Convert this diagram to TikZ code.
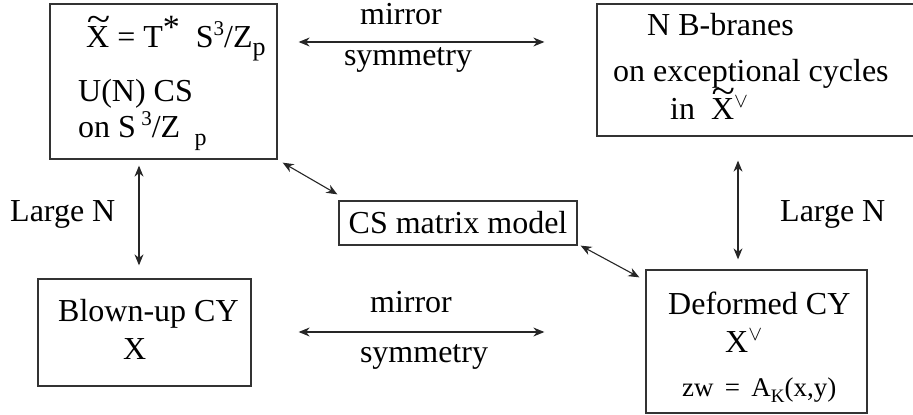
\documentclass[tikz,border=0pt]{standalone}
\usepackage{fontspec}
\setmainfont{Liberation Serif}
\usetikzlibrary{arrows.meta}
\newcommand{\sz}{\fontsize{32}{36}\selectfont}
\newcommand{\smz}{\fontsize{27}{30}\selectfont}
\newcommand{\myup}[1]{\raisebox{0.40em}{\fontsize{21}{21}\selectfont #1}}
\newcommand{\mydn}[1]{\raisebox{-0.22em}{\fontsize{24}{24}\selectfont #1}}
\newcommand{\tX}{\makebox[0pt][l]{\hspace{0.02em}\raisebox{0.50em}{\scalebox{1.35}[1.15]{\symbol{126}}}}X}
\begin{document}
\begin{tikzpicture}[x=1pt,y=1pt,
  box/.style={draw=black!80, line width=1.3pt, inner sep=0pt},
  txt/.style={anchor=base west, inner sep=0pt, font=\sz},
  lbl/.style={anchor=base, inner sep=0pt, font=\sz},
  arr/.style={draw=black!85, line width=1.1pt, {Stealth[length=11pt,width=9pt]}-{Stealth[length=11pt,width=9pt]}}]
\useasboundingbox (0,0) rectangle (913,415);
% boxes
\node[box, minimum width=227pt, minimum height=155pt] (tl) at (163.5,333.5) {};
\node[box, minimum width=317pt, minimum height=132pt] (tr) at (755.5,345) {};
\node[box, minimum width=213pt, minimum height=107pt] (bl) at (144.5,82.5) {};
\node[box, minimum width=221pt, minimum height=143pt] (br) at (756.5,73.5) {};
\node[box, minimum width=238pt, minimum height=44pt, font=\sz] (cs) at (458,192) {CS matrix model};
% texts in TL
\node[txt] (tl1) at (86,367) {\tX\ = T\raisebox{0.30em}{\fontsize{34}{34}\selectfont *}\ \ S\myup{3}/Z\mydn{\fontsize{26}{26}\selectfont p}};
\node[txt] (tl2) at (78,313) {U(N) CS};
\node[txt] (tl3) at (78,277) {on S\,\myup{3}/Z\hspace{0.45em}\mydn{p}};
% texts in TR
\node[txt] (tr1) at (647,379) {N B-branes};
\node[txt] (tr2) at (613,333) {on exceptional cycles};
\node[txt] (tr3) at (670,295) {in\ \ \tX\myup{$\vee$}};
% texts in BL
\node[txt] (bl1) at (58,93) {Blown-up CY};
\node[txt] (bl2) at (123,55) {X};
% texts in BR
\node[txt] (br1) at (668,100) {Deformed CY};
\node[txt] (br2) at (725,62) {X\myup{$\vee$}};
\node[txt, font=\smz] (br3) at (682,18) {zw\ \,=\ \,A\raisebox{-0.22em}{\fontsize{19}{19}\selectfont K}(x,y)};
% labels
\node[lbl] (m1) at (401,390) {mirror};
\node[lbl] (s1) at (408,349) {symmetry};
\node[lbl] (m2) at (411,102) {mirror};
\node[lbl] (s2) at (424,52) {symmetry};
\node[txt] (ln1) at (10,193) {Large N};
\node[txt] (ln2) at (780,193) {Large N};
% connectors
\draw[arr, shorten <=21pt, shorten >=52pt] ([yshift=39.5pt]tl.east) -- ([yshift=28pt]tr.west);
\draw[arr, shorten <=47pt, shorten >=101pt] ([yshift=0.5pt]bl.east) -- ([yshift=9.5pt]br.west);
\draw[arr, shorten <=6pt, shorten >=13pt] ([xshift=-24.5pt]tl.south) -- ([xshift=-5.5pt]bl.north);
\draw[arr, shorten <=24pt, shorten >=10pt] ([xshift=-17.5pt]tr.south) -- ([xshift=-18.5pt]br.north);
\draw[arr] ([shift={(5pt,-3pt)}]tl.south east) -- ([shift={(-1pt,6pt)}]cs.north west);
\draw[arr] ([xshift=3pt]cs.south east) -- ([shift={(-6pt,-8pt)}]br.north west);
\end{tikzpicture}
\end{document}
